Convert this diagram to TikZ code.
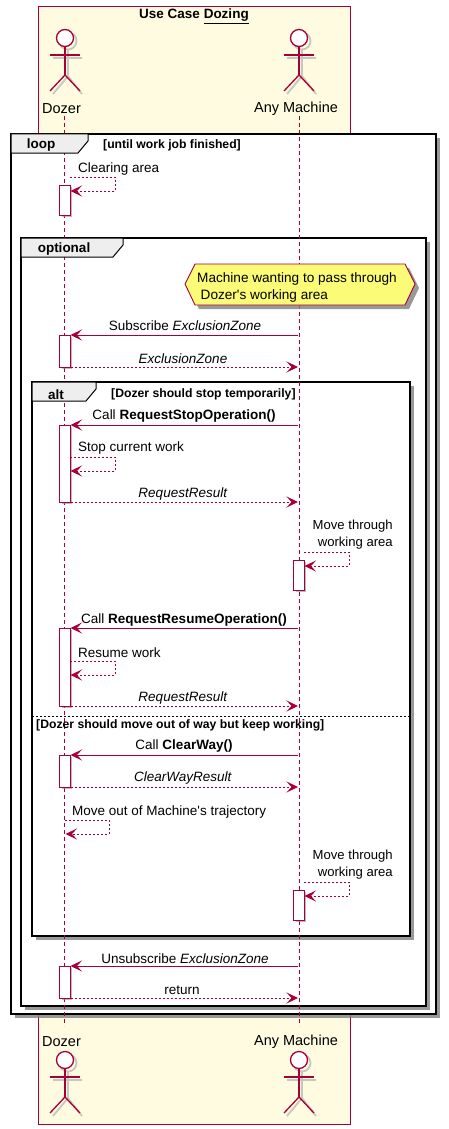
\documentclass[tikz,border=0pt]{standalone}
\usepackage{fontspec}
\setmainfont{Liberation Sans}[Ligatures=TeXOff]
\usetikzlibrary{arrows.meta}
\usetikzlibrary{shadows}
\definecolor{uml_red}{HTML}{A80036}
\definecolor{uml_box}{HTML}{FEFBE0}
\definecolor{uml_note}{HTML}{FBFB77}
\definecolor{uml_tab}{HTML}{EEEEEE}
\tikzset{
  uml_shadow/.style = {drop shadow={shadow xshift=4pt, shadow yshift=-4pt,
    fill=black!50, opacity=.8}},
  case_box/.style = {rectangle, draw=uml_red, fill=uml_box, line width=0.8pt,
    inner sep=0pt, outer sep=0pt, anchor=north west},
  frame_box/.style = {rectangle, draw=black, fill=white, line width=2.2pt,
    inner sep=0pt, outer sep=0pt, anchor=north west, uml_shadow},
  frame_tab/.style = {draw=black, fill=uml_tab, line width=1pt},
  frame_name/.style = {font=\fontsize{13.5}{16}\selectfont\bfseries, inner sep=0pt, yshift=-1.5pt},
  guard_text/.style = {font=\fontsize{12.2}{14}\selectfont\bfseries, inner sep=0pt, yshift=-1.5pt},
  actor_name/.style = {font=\fontsize{14.5}{17}\selectfont, inner sep=0pt, yshift=-1pt},
  msg_label/.style = {font=\fontsize{13.5}{17}\selectfont, inner sep=0pt, align=center, yshift=-1.5pt},
  life_line/.style = {draw=uml_red, line width=0.8pt, dash pattern=on 4pt off 3pt},
  activation_bar/.style = {rectangle, draw=uml_red, fill=white, line width=0.9pt,
    minimum width=10.5pt, inner sep=0pt, outer sep=0pt, anchor=north,
    drop shadow={shadow xshift=2pt, shadow yshift=-2pt, fill=black!45, opacity=.6}},
  msg_call/.style = {draw=uml_red, line width=1pt,
    -{Stealth[length=11.5pt, width=11pt, inset=5pt]}},
  msg_return/.style = {msg_call, dash pattern=on 2pt off 2pt},
  actor_line/.style = {draw=uml_red, line width=1.3pt},
  actor_ghost/.style = {draw=black!30, line width=1.8pt, opacity=.7}
}
\begin{document}
\begin{tikzpicture}[x=1pt, y=-1pt]
  \useasboundingbox (0,0) rectangle (449,1129);
  % use case background
  \node [case_box, minimum width=312pt, minimum height=1118pt] (case_back) at (38,6) {};
  \node [font=\fontsize{13.5}{16}\selectfont\bfseries, inner sep=0pt, yshift=-1.5pt] (case_title) at (194,15)
    {Use Case \underline{Dozing}};
  % actors
  \foreach \who/\xx in {dozer/65,machine/299}{
    \foreach \pos/\yy in {top/38,bottom/1060}{
      \draw [actor_ghost] (\xx+3,\yy+3) circle (8.5);
      \draw [actor_ghost] (\xx+3,\yy+12) -- (\xx+3,\yy+38) (\xx-12,\yy+20) -- (\xx+17,\yy+20)
        (\xx-12,\yy+56) -- (\xx+3,\yy+38) -- (\xx+17,\yy+56);
      \node [circle, draw=uml_red, fill=white, line width=1.3pt, minimum size=17pt, inner sep=0pt]
        (\who_\pos_head) at (\xx,\yy) {};
      \coordinate (\who_\pos_hip) at (\xx,\yy+37);
      \coordinate (\who_\pos_arm_l) at (\xx-15,\yy+17);
      \coordinate (\who_\pos_arm_r) at (\xx+15,\yy+17);
      \coordinate (\who_\pos_leg_l) at (\xx-15,\yy+53);
      \coordinate (\who_\pos_leg_r) at (\xx+15,\yy+53);
      \draw [actor_line] (\who_\pos_head) -- (\who_\pos_hip);
      \draw [actor_line] (\who_\pos_arm_l) -- (\who_\pos_arm_r);
      \draw [actor_line] (\who_\pos_leg_l) -- (\who_\pos_hip) -- (\who_\pos_leg_r);
    }
  }
  \node [actor_name] (dozer_name_top) at (61.5,108) {Dozer};
  \node [actor_name] (machine_name_top) at (296,108) {Any Machine};
  \node [actor_name] (dozer_name_bottom) at (61.5,1041) {Dozer};
  \node [actor_name] (machine_name_bottom) at (296,1041) {Any Machine};
  % frames
  \node [frame_box, minimum width=425pt, minimum height=880pt] (frame_loop) at (11,134) {};
  \node [frame_box, minimum width=405pt, minimum height=768pt] (frame_optional) at (21,238) {};
  \node [frame_box, minimum width=378pt, minimum height=554pt] (frame_alt) at (32,382) {};
  % life lines
  \coordinate (dozer_from) at (64.5,116);
  \coordinate (dozer_to) at (64.5,1026);
  \coordinate (machine_from) at (299,116);
  \coordinate (machine_to) at (299,1026);
  \draw [life_line] (dozer_from) -- (dozer_to);
  \draw [life_line] (machine_from) -- (machine_to);
  % frame tabs
  \draw [frame_tab] (frame_loop.north west) -- ++(77,0) -- ++(0,7) -- ++(-10,12) -- ++(-67,0) -- cycle;
  \draw [frame_tab] (frame_optional.north west) -- ++(102,0) -- ++(0,7) -- ++(-10,12) -- ++(-92,0) -- cycle;
  \draw [frame_tab] (frame_alt.north west) -- ++(64,0) -- ++(0,7) -- ++(-10,12) -- ++(-54,0) -- cycle;
  \node [frame_name] (loop_name) at (41,144) {loop};
  \node [frame_name] (optional_name) at (64,248) {optional};
  \node [frame_name] (alt_name) at (56,393) {alt};
  \node [guard_text, anchor=west] (loop_guard) at (103,144) {[until work job finished]};
  \node [guard_text, anchor=west] (alt_guard) at (111,393) {[Dozer should stop temporarily]};
  % alt divider
  \coordinate (split_l) at (32,716);
  \coordinate (split_r) at (410,716);
  \draw [black, line width=0.7pt, dash pattern=on 2pt off 2pt] (split_l) -- (split_r);
  \node [guard_text, anchor=west] (alt_guard_two) at (36,724)
    {[Dozer should move out of way but keep working]};
  % note
  \draw [draw=uml_red, fill=uml_note, line width=0.9pt, uml_shadow]
    (185,284) -- (195,264) -- (405,264) -- (415,284) -- (405,305) -- (195,305) -- cycle;
  \node [msg_label, align=left, anchor=north west, font=\fontsize{13.6}{17}\selectfont] (note_pass) at (197,270.5)
    {Machine wanting to pass through\\\hspace{3.5pt}Dozer's working area};
  % activations
  \node [activation_bar, minimum height=30pt] (act_clear) at (65,185) {};
  \node [activation_bar, minimum height=32pt] (act_sub) at (65,335) {};
  \node [activation_bar, minimum height=77pt] (act_stop) at (65,425) {};
  \node [activation_bar, minimum height=30pt] (act_move_a) at (299,560) {};
  \node [activation_bar, minimum height=78pt] (act_resume) at (65,628) {};
  \node [activation_bar, minimum height=32pt] (act_way) at (65,755) {};
  \node [activation_bar, minimum height=30pt] (act_move_b) at (299,890) {};
  \node [activation_bar, minimum height=32pt] (act_unsub) at (65,966) {};
  % message ends
  \foreach \nm/\yy in {sub/335,zone/367,stop/425,stopres/502,resume/628,resumeres/706,
      way/755,wayres/787,unsub/966,ret/998}{
    \coordinate (dozer_\nm) at (70.5,\yy);
    \coordinate (machine_\nm) at (298,\yy);
  }
  \foreach \nm/\xx/\ya/\yb/\ww in {clear/70/177/191/45,current/70/457/471/45,
      working/65/820/834/44,resumed/70/661/675/45,passa/304/552/566/45,passb/304/882/896/45}{
    \coordinate (self_\nm_out) at (\xx,\ya);
    \coordinate (self_\nm_in) at (\xx+0.5,\yb);
    \draw [msg_return] (self_\nm_out) -- ++(\ww,0) |- (self_\nm_in);
  }
  % messages
  \draw [msg_call] (machine_sub) -- (dozer_sub);
  \draw [msg_return] (dozer_zone) -- (machine_zone);
  \draw [msg_call] (machine_stop) -- (dozer_stop);
  \draw [msg_return] (dozer_stopres) -- (machine_stopres);
  \draw [msg_call] (machine_resume) -- (dozer_resume);
  \draw [msg_return] (dozer_resumeres) -- (machine_resumeres);
  \draw [msg_call] (machine_way) -- (dozer_way);
  \draw [msg_return] (dozer_wayres) -- (machine_wayres);
  \draw [msg_call] (machine_unsub) -- (dozer_unsub);
  \draw [msg_return] (dozer_ret) -- (machine_ret);
  % message labels
  \node [msg_label, anchor=west] (lbl_clear) at (78,168) {Clearing area};
  \node [msg_label] (lbl_sub) at (185,324) {Subscribe \textit{ExclusionZone}};
  \node [msg_label] (lbl_zone) at (183,357) {\textit{ExclusionZone}};
  \node [msg_label] (lbl_stop) at (184,415) {Call \textbf{RequestStopOperation()}};
  \node [msg_label, anchor=west] (lbl_current) at (78,447) {Stop current work};
  \node [msg_label] (lbl_stopres) at (183,493) {\textit{RequestResult}};
  \node [msg_label, align=right, anchor=east, font=\fontsize{13.1}{17}\selectfont] (lbl_passa) at (393,533) {Move through\\ working area};
  \node [msg_label] (lbl_resume) at (184,619) {Call \textbf{RequestResumeOperation()}};
  \node [msg_label, anchor=west] (lbl_resumed) at (78,651) {Resume work};
  \node [msg_label] (lbl_resumeres) at (183,697) {\textit{RequestResult}};
  \node [msg_label] (lbl_way) at (184,745) {Call \textbf{ClearWay()}};
  \node [msg_label] (lbl_wayres) at (183,777) {\textit{ClearWayResult}};
  \node [msg_label, anchor=west] (lbl_working) at (72,810) {Move out of Machine's trajectory};
  \node [msg_label, align=right, anchor=east, font=\fontsize{13.1}{17}\selectfont] (lbl_passb) at (393,863.5) {Move through\\ working area};
  \node [msg_label] (lbl_unsub) at (185,957) {Unsubscribe \textit{ExclusionZone}};
  \node [msg_label] (lbl_ret) at (182,989) {return};
\end{tikzpicture}
\end{document}
